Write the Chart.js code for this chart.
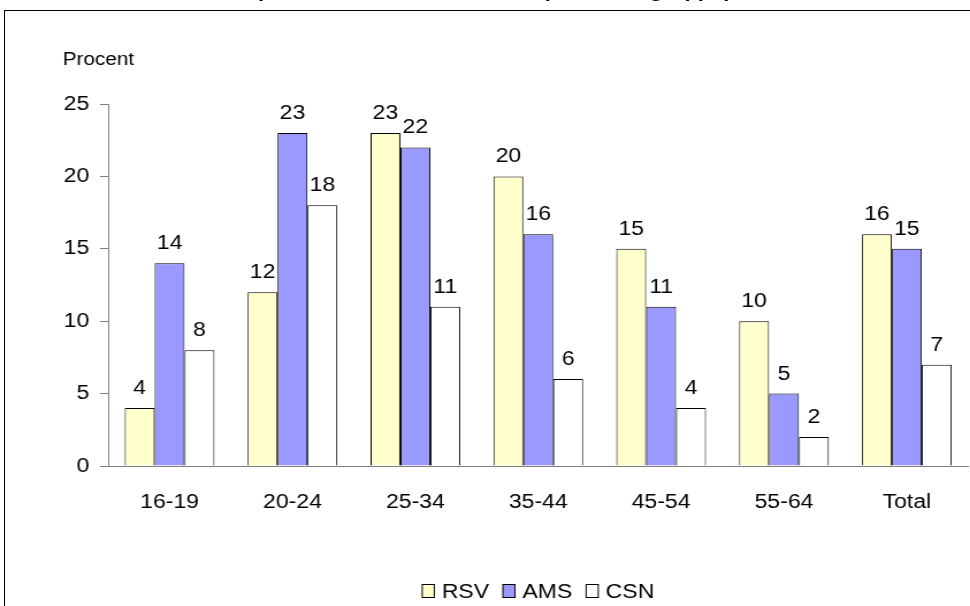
<!DOCTYPE html>
<html>
<head>
<meta charset="utf-8">
<script src="https://cdn.jsdelivr.net/npm/chart.js@4"></script>
<style>
    html, body { margin: 0; padding: 0; background: #fff; overflow: hidden; }
    #wrap { position: relative; width: 970px; height: 606px; overflow: hidden; }
    #frame { position: absolute; left: 4px; top: 10px; width: 1000px; height: 700px;
             border-left: 1px solid #000; border-top: 1px solid #000; }
    /* the original picture is stretched sideways, so the chart is drawn narrow and widened */
    #stretch { position: absolute; left: 0; top: 0; width: 843px; height: 606px;
               transform: scaleX(1.1507); transform-origin: 0 0; }
    #title { position: absolute; left: 0; top: -19px; width: 820px; text-align: center;
             font: bold 19px "Liberation Sans", Arial, sans-serif; line-height: 20px; white-space: nowrap; }
    #chart { position: absolute; left: 0; top: 0; }
</style>
</head>
<body>
<div id="wrap">
    <div id="frame"></div>
    <div id="stretch">
        <div id="title">Andel med problem med skulder, 2003 per åldersgrupp, procent</div>
        <canvas id="chart" width="843" height="606"></canvas>
    </div>
</div>
<script>
    const categories = ['16-19', '20-24', '25-34', '35-44', '45-54', '55-64', 'Total'];
    const rsv = [4, 12, 23, 20, 15, 10, 16];
    const ams = [14, 23, 22, 16, 11, 5, 15];
    const csn = [8, 18, 11, 6, 4, 2, 7];
    const yTicks = [0, 5, 10, 15, 20, 25];
    const yUnit = 'Procent';

    Chart.defaults.font.family = '"Liberation Sans", Arial, sans-serif';
    Chart.defaults.color = '#000';

    // value labels above each bar
    const barLabels = {
        id: 'barLabels',
        afterDatasetsDraw(chart) {
            const ctx = chart.ctx;
            ctx.save();
            ctx.font = '20px "Liberation Sans", Arial, sans-serif';
            ctx.fillStyle = '#000';
            ctx.textAlign = 'center';
            ctx.textBaseline = 'alphabetic';
            chart.data.datasets.forEach((ds, i) => {
                chart.getDatasetMeta(i).data.forEach((bar, j) => {
                    ctx.fillText(String(ds.data[j]), bar.x, bar.y - 14);
                });
            });
            ctx.restore();
        }
    };

    // "Procent" above the y axis + legend at the bottom
    const extras = {
        id: 'extras',
        afterDraw(chart) {
            const ctx = chart.ctx;
            const area = chart.chartArea;
            ctx.save();
            ctx.fillStyle = '#000';
            ctx.font = '18px "Liberation Sans", Arial, sans-serif';
            ctx.textAlign = 'left';
            ctx.textBaseline = 'alphabetic';
            ctx.fillText(yUnit, 54.5, 65);

            ctx.font = '20px "Liberation Sans", Arial, sans-serif';
            ctx.textBaseline = 'middle';
            const box = 10.5, gap = 6.5, itemGap = 12;
            const items = chart.data.datasets.map(ds => ({
                label: ds.label, fill: ds.backgroundColor, w: box + gap + ctx.measureText(ds.label).width
            }));
            const total = items.reduce((s, it) => s + it.w, 0) + itemGap * (items.length - 1);
            let x = (area.left + area.right) / 2 - total / 2;
            const y = 591;
            items.forEach(it => {
                ctx.fillStyle = it.fill;
                ctx.fillRect(x, y - 6.5, box, 13);
                ctx.strokeStyle = '#000';
                ctx.lineWidth = 1;
                ctx.strokeRect(x, y - 6.5, box, 13);
                ctx.fillStyle = '#000';
                ctx.fillText(it.label, x + box + gap, y + 1);
                x += it.w + itemGap;
            });
            ctx.restore();
        }
    };

    new Chart(document.getElementById('chart').getContext('2d'), {
        type: 'bar',
        data: {
            labels: categories,
            datasets: [
                { label: 'RSV', data: rsv, backgroundColor: '#FFFFCC' },
                { label: 'AMS', data: ams, backgroundColor: '#9999FF' },
                { label: 'CSN', data: csn, backgroundColor: '#FFFFFF' },
            ]
        },
        options: {
            responsive: false,
            animation: false,
            devicePixelRatio: 1,
            datasets: {
                bar: {
                    categoryPercentage: 0.73,
                    barPercentage: 1.0,
                    borderWidth: 1,
                    borderColor: '#000',
                }
            },
            layout: {
                padding: { left: 0, top: 104, right: 1.5, bottom: 0 }
            },
            plugins: {
                legend: { display: false },
                title: { display: false },
                tooltip: { enabled: false }
            },
            scales: {
                x: {
                    grid: { display: true, drawOnChartArea: false, drawTicks: false },
                    border: { display: true, color: '#808080', width: 1 },
                    ticks: { font: { size: 20 }, color: '#000', padding: 24 },
                    afterFit: (s) => { s.height = 140; }
                },
                y: {
                    min: 0,
                    max: 25,
                    afterBuildTicks: (s) => { s.ticks = yTicks.map(v => ({ value: v })); },
                    grid: { drawOnChartArea: false, drawTicks: true, tickLength: 7, color: '#808080' },
                    border: { display: true, color: '#808080', width: 1 },
                    ticks: { font: { size: 20 }, color: '#000', padding: 9.5 },
                    afterFit: (s) => { s.width = 94; }
                }
            }
        },
        plugins: [barLabels, extras]
    });
</script>
</body>
</html>
